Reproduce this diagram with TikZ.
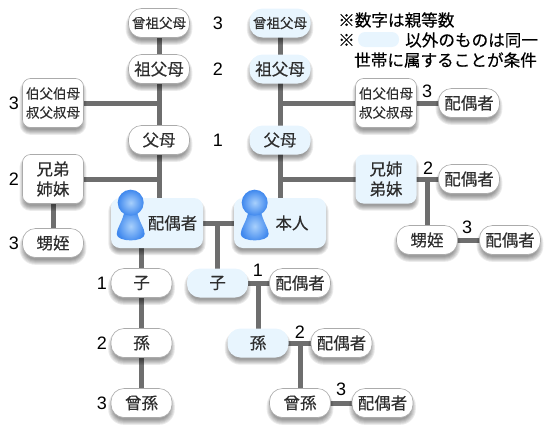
\documentclass[tikz,border=0pt]{standalone}
\usepackage{fontspec}
\setmainfont{Noto Sans CJK JP}[RawFeature={embolden=0.25}]
\newfontfamily\numfont{Liberation Sans}
\usetikzlibrary{backgrounds,calc}
\definecolor{linegray}{HTML}{6E6E6E}
\definecolor{paleblue}{HTML}{E8F5FE}
\definecolor{inkgray}{HTML}{2E2E2E}
\definecolor{edgegray}{HTML}{ABABAB}
\definecolor{iconlight}{HTML}{A8D0FC}
\definecolor{icondark}{HTML}{3F88EE}
\tikzset{
  x=1pt,y=1pt,
  base/.style={rounded corners=13pt,inner sep=0pt,align=center,text=inkgray,
    minimum width=61pt,minimum height=29pt,font=\fontsize{16.5}{20}\selectfont},
  wnode/.style={base,fill=white,draw=edgegray,line width=.6pt},
  bnode/.style={base,fill=paleblue},
  small/.style={font=\fontsize{13.5}{19}\selectfont},
  tall/.style={minimum height=49pt,rounded corners=8pt},
  person/.style={minimum width=92pt,minimum height=50pt,rounded corners=9pt},
  num/.style={inner sep=0pt,text=black,font=\numfont\fontsize{18}{18}\selectfont},
  note/.style={inner sep=0pt,anchor=west,text=black,font=\fontsize{16.6}{20}\selectfont},
  conn/.style={draw=linegray,line width=5pt},
  shadowlayer/.style={fill=black,fill opacity=.08,draw=none}
}
\begin{document}
\begin{tikzpicture}[yscale=-1]
\useasboundingbox (0,0) rectangle (551,431);
% left line
\node[wnode,small] (lgg) at (159,23) {曾祖父母};
\node[wnode] (lg) at (159,69) {祖父母};
\node[wnode] (lp) at (159,140) {父母};
\node[wnode,small,tall] (lu) at (53,103) {伯父伯母\\叔父叔母};
\node[wnode,tall] (ls) at (53,179) {兄弟\\姉妹};
\node[wnode] (ln) at (53,243) {甥姪};
\node[bnode,person] (spouse) at (157,223) {\hspace*{31pt}配偶者};
\node[bnode,person] (self) at (280,223) {\hspace*{24pt}本人};
\node[wnode] (lc) at (141.5,283) {子};
\node[wnode] (lgc) at (141.5,343) {孫};
\node[wnode] (lggc) at (141.5,403) {曾孫};
% right line
\node[bnode,small] (rgg) at (280,23) {曾祖父母};
\node[bnode] (rg) at (280,69) {祖父母};
\node[bnode] (rp) at (280,140) {父母};
\node[wnode,small,tall] (ru) at (386,103) {伯父伯母\\叔父叔母};
\node[wnode] (rus) at (469,103) {配偶者};
\node[bnode,tall] (rs) at (386,179) {兄姉\\弟妹};
\node[wnode] (rss) at (469,179) {配偶者};
\node[wnode] (rn) at (427,240) {甥姪};
\node[wnode] (rns) at (510,240) {配偶者};
\node[bnode] (cc) at (217.5,283) {子};
\node[wnode] (ccs) at (300,283) {配偶者};
\node[bnode] (cg) at (258,343) {孫};
\node[wnode] (cgs) at (341.5,343) {配偶者};
\node[wnode] (cgg) at (300,403) {曾孫};
\node[wnode] (cggs) at (382.5,403) {配偶者};
% junctions
\coordinate (j1) at (159,103);
\coordinate (j2) at (159,179);
\coordinate (j3) at (159,198);
\coordinate (j4) at (280,103);
\coordinate (j5) at (280,179);
\coordinate (j6) at (280,198);
\coordinate (j7) at (427,179);
\coordinate (j8) at (217.5,223);
\coordinate (j9) at (258,283);
\coordinate (j10) at (300,343);
\coordinate (j11) at (141.5,248);
\begin{scope}[on background layer]
\draw[conn] (lgg.center) -- (lg.center);
\draw[conn] (lg.center) -- (lp.center);
\draw[conn] (lp.center) -- (j3);
\draw[conn] (lu.center) -- (j1);
\draw[conn] (ls.center) -- (j2);
\draw[conn] (ls.center) -- (ln.center);
\draw[conn] (rgg.center) -- (rg.center);
\draw[conn] (rg.center) -- (rp.center);
\draw[conn] (rp.center) -- (j6);
\draw[conn] (j4) -- (ru.center);
\draw[conn] (ru.center) -- (rus.center);
\draw[conn] (j5) -- (rs.center);
\draw[conn] (rs.center) -- (rss.center);
\draw[conn] (j7) -- (rn.center);
\draw[conn] (rn.center) -- (rns.center);
\draw[conn] (spouse.center) -- (self.center);
\draw[conn] (j8) -- (cc.center);
\draw[conn] (cc.center) -- (ccs.center);
\draw[conn] (j9) -- (cg.center);
\draw[conn] (cg.center) -- (cgs.center);
\draw[conn] (j10) -- (cgg.center);
\draw[conn] (cgg.center) -- (cggs.center);
\draw[conn] (j11) -- (lc.center);
\draw[conn] (lc.center) -- (lgc.center);
\draw[conn] (lgc.center) -- (lggc.center);
% soft shadows, above the connectors and below the boxes
\foreach \n/\r in {lgg/13,lg/13,lp/13,lu/8,ls/8,ln/13,spouse/9,self/9,lc/13,lgc/13,lggc/13,
                   rgg/13,rg/13,rp/13,ru/8,rus/13,rs/8,rss/13,rn/13,rns/13,cc/13,ccs/13,
                   cg/13,cgs/13,cgg/13,cggs/13} {
  \foreach \d in {2.5,1.5,0.5,-0.5,-1.5,-2.5} {
    \fill[shadowlayer,rounded corners={(\r+\d)*1pt}]
      ($(\n.north west)+(-\d,-\d+4.5)$) rectangle ($(\n.south east)+(\d,\d+4.5)$);
  }
}
\end{scope}
% person icons
\foreach \px in {130.7,254.7} {
  \shade[inner color=iconlight,outer color=icondark,draw=none]
    (\px-6,210) .. controls (\px-8,222) and (\px-14,228) .. (\px-14,234)
    .. controls (\px-14,242.5) and (\px+14,242.5) .. (\px+14,234)
    .. controls (\px+14,228) and (\px+8,222) .. (\px+6,210) -- cycle;
  \shade[inner color=iconlight,outer color=icondark] (\px,202.7) circle [radius=13];
}
% numbers
\node[num] (n1) at (218,23) {3};
\node[num] (n2) at (218,69) {2};
\node[num] (n3) at (218,140) {1};
\node[num] (n4) at (14,103) {3};
\node[num] (n5) at (14,179) {2};
\node[num] (n6) at (14,243) {3};
\node[num] (n7) at (427,91) {3};
\node[num] (n8) at (428,168) {2};
\node[num] (n9) at (467,227) {3};
\node[num] (n10) at (102,283) {1};
\node[num] (n11) at (102,343) {2};
\node[num] (n12) at (102,403) {3};
\node[num] (n13) at (258,270) {1};
\node[num] (n14) at (300,332) {2};
\node[num] (n15) at (341,389) {3};
% note
\node[note] (t1) at (338,20) {※数字は親等数};
\node[note] (t2) at (338,40) {※};
\node[fill=paleblue,rounded corners=7pt,minimum width=41pt,minimum height=15pt,inner sep=0pt] (pill) at (378.5,39.5) {};
\node[note] (t3) at (405,40) {以外のものは同一};
\node[note] (t4) at (354,60) {世帯に属することが条件};
\end{tikzpicture}
\end{document}
